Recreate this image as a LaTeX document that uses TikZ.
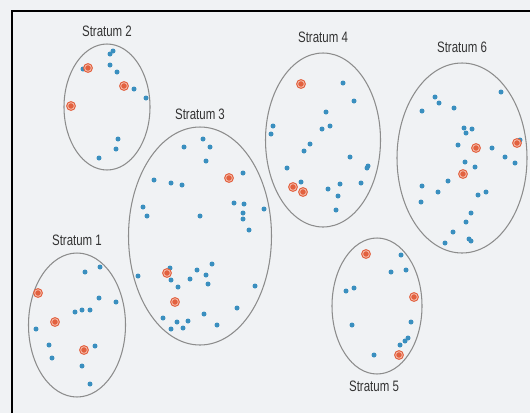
\documentclass[tikz,border=0pt]{standalone}
\usepackage{fontspec}
\newfontfamily\stratfont{Liberation Sans}
\usepackage{xcolor}
\usetikzlibrary{shapes.geometric,positioning}
\definecolor{unitblue}{HTML}{3A8FBF}
\definecolor{pickred}{HTML}{E2613F}
\definecolor{pickpale}{HTML}{F6C3B3}
\definecolor{ringgray}{HTML}{8C8C8C}
\definecolor{paper}{HTML}{F0F2F4}

\begin{document}
\begin{tikzpicture}[x=0.05cm,y=-0.05cm,
            stratum/.style={shape=ellipse, draw=ringgray, line width=1.5pt, inner sep=0pt},
            lbl/.style={font=\stratfont\fontsize{21.5}{24}\selectfont, text=black!80, inner sep=0pt},
            unit/.style={shape=circle, fill=unitblue, inner sep=0pt, minimum size=0.25cm},
            pick/.style={shape=circle, fill=pickred, inner sep=0pt, minimum size=0.33cm,
                         draw=pickred, double=pickpale, double distance=1.1pt, line width=1.6pt}]
        \fill[paper] (0,0) rectangle (530,413);
        \useasboundingbox (0,0) rectangle (530,413);
        \coordinate (fbl) at (12,413);
        \coordinate (ftl) at (12,11);
        \coordinate (ftr) at (530,11);
        \draw[line width=2.4pt] (fbl) -- (ftl) -- (ftr);

        \node[stratum, minimum width=4.85cm, minimum height=7.2cm] (s1) at (77,325) {};
        \node[stratum, minimum width=4.3cm, minimum height=6.3cm] (s2) at (107,107) {};
        \node[stratum, minimum width=7.15cm, minimum height=10.9cm] (s3) at (200,236) {};
        \node[stratum, minimum width=5.75cm, minimum height=8.7cm] (s4) at (323,140) {};
        \node[stratum, minimum width=4.5cm, minimum height=6.8cm] (s5) at (377,306) {};
        \node[stratum, minimum width=6.5cm, minimum height=9.5cm] (s6) at (462,158) {};

        \node[lbl] (l1) at (77,240) {\scalebox{0.76}[1]{Stratum 1}};
        \node[lbl] (l2) at (107,31) {\scalebox{0.76}[1]{Stratum 2}};
        \node[lbl] (l3) at (200,114) {\scalebox{0.76}[1]{Stratum 3}};
        \node[lbl] (l4) at (323,37) {\scalebox{0.76}[1]{Stratum 4}};
        \node[lbl] (l5) at (374,386) {\scalebox{0.76}[1]{Stratum 5}};
        \node[lbl] (l6) at (462,47) {\scalebox{0.76}[1]{Stratum 6}};

        \foreach \p [count=\i] in {(85,272),(100,267),(99,298),(116,302),(75,312),(82,310),(90,310),
                (36,329),(49,345),(52,358),(95,346),(82,366),(90,384)}
            \node[unit] (a\i) at \p {};
        \foreach \p [count=\i] in {(113,51),(110,54),(83,69),(110,65),(117,72),(134,89),(146,98),
                (118,139),(116,149),(99,158)}
            \node[unit] (b\i) at \p {};
        \foreach \p [count=\i] in {(203,139),(184,147),(210,147),(206,161),(243,173),(154,180),(171,183),
                (182,185),(234,203),(244,204),(143,207),(264,209),(243,213),(147,216),(200,216),(243,219),
                (249,230),(138,276),(212,264),(197,270),(206,275),(190,279),(208,284),(178,287),(170,268),
                (171,280),(255,286),(237,308),(163,318),(204,314),(177,322),(188,321),(171,329),(183,328),
                (217,325)}
            \node[unit] (c\i) at \p {};
        \foreach \p [count=\i] in {(343,83),(354,101),(326,112),(273,126),(271,134),(330,126),(322,129),
                (310,144),(304,151),(350,157),(368,166),(367,168),(287,168),(301,182),(340,184),(361,183),
                (328,189),(338,196),(336,210)}
            \node[unit] (d\i) at \p {};
        \foreach \p [count=\i] in {(401,255),(391,272),(406,270),(346,291),(354,288),(352,325),(411,322),
                (408,338),(405,341),(400,345),(374,355)}
            \node[unit] (e\i) at \p {};
        \foreach \p [count=\i] in {(501,92),(435,97),(439,103),(422,111),(454,108),(464,128),(472,129),
                (466,133),(458,145),(492,148),(520,140),(505,157),(515,163),(465,162),(475,167),(448,181),
                (422,186),(438,192),(486,192),(478,195),(421,202),(471,213),(466,222),(453,232),(469,239),
                (471,241),(445,243)}
            \node[unit] (f\i) at \p {};

        \foreach \p [count=\i] in {(38,293),(55,322),(84,350),(88,68),(124,86),(71,106),
                (229,178),(167,273),(175,302),(301,84),(293,187),(303,192),
                (366,254),(414,297),(399,355),(476,148),(517,143),(463,174)}
            \node[pick] (p\i) at \p {};
    \end{tikzpicture}
\end{document}
